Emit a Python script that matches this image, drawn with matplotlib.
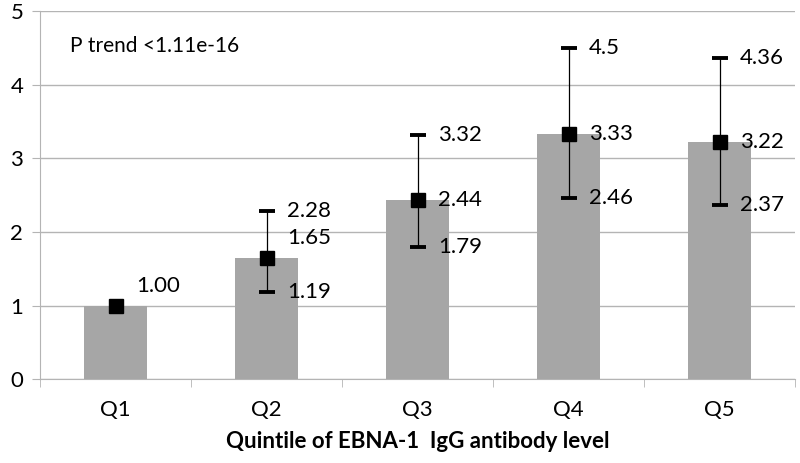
import numpy as np
import matplotlib
matplotlib.use("Agg")
import matplotlib.pyplot as plt

# Данные
categories = ["Q1", "Q2", "Q3", "Q4", "Q5"]
means = [1.00, 1.65, 2.44, 3.33, 3.22]
lower = [np.nan, 1.19, 1.79, 2.46, 2.37]
upper = [np.nan, 2.28, 3.32, 4.5, 4.36]
mean_labels = ["1.00", "1.65", "2.44", "3.33", "3.22"]
lower_labels = ["", "1.19", "1.79", "2.46", "2.37"]
upper_labels = ["", "2.28", "3.32", "4.5", "4.36"]
y_ticks = [0, 1, 2, 3, 4, 5]

plt.rcParams['font.family'] = ['Lato', 'DejaVu Sans']
grid_color = '#b4b4b4'
fs = 16

fig = plt.figure(figsize=(8, 4.63), dpi=100)
ax = fig.add_axes([0.05, 0.181, 0.944, 0.795])

x = np.arange(len(categories))
ax.bar(x, means, width=0.42, color='#a6a6a6', zorder=2)

m = np.array(means)
lo = np.array(lower)
up = np.array(upper)
yerr = np.vstack([m - lo, up - m])
ax.errorbar(x, m, yerr=yerr, fmt='none', ecolor='black', elinewidth=0.9,
            capsize=5.6, capthick=2.8, zorder=3)
ax.plot(x, m, 's', color='black', markersize=10.5, zorder=4)

# Подписи значений
dx = 0.135
mean_shift = [0.27, 0.27, 0, 0, 0]
for i in range(len(categories)):
    ax.text(x[i] + dx, m[i] + mean_shift[i], mean_labels[i], fontsize=fs,
            va='center', ha='left', zorder=5)
    if upper_labels[i]:
        ax.text(x[i] + dx, up[i], upper_labels[i], fontsize=fs,
                va='center', ha='left', zorder=5)
        ax.text(x[i] + dx, lo[i], lower_labels[i], fontsize=fs,
                va='center', ha='left', zorder=5)

ax.text(-0.30, 4.52, "P trend <1.11e-16", fontsize=15, va='center', ha='left')

# Оси
ax.set_xlim(-0.5, 4.5)
ax.set_ylim(0, 5)
ax.set_yticks(y_ticks)
ax.set_yticklabels([str(t) for t in y_ticks], fontsize=fs)
ax.set_xticks(x)
ax.set_xticklabels(categories, fontsize=fs)
ax.set_xticks(np.arange(-0.5, 5, 1), minor=True)
ax.tick_params(axis='x', which='major', length=0, pad=15)
ax.tick_params(axis='x', which='minor', length=6, color=grid_color)
ax.tick_params(axis='y', length=6, color=grid_color, pad=6)
ax.grid(axis='y', color=grid_color, linewidth=1, zorder=0)
for s in ['top', 'right']:
    ax.spines[s].set_visible(False)
ax.spines['left'].set_color(grid_color)
ax.spines['bottom'].set_color(grid_color)
ax.set_xlabel("Quintile of EBNA-1  IgG antibody level", fontsize=fs,
              fontweight='bold', labelpad=8)

fig.savefig('out.png', dpi=100)
